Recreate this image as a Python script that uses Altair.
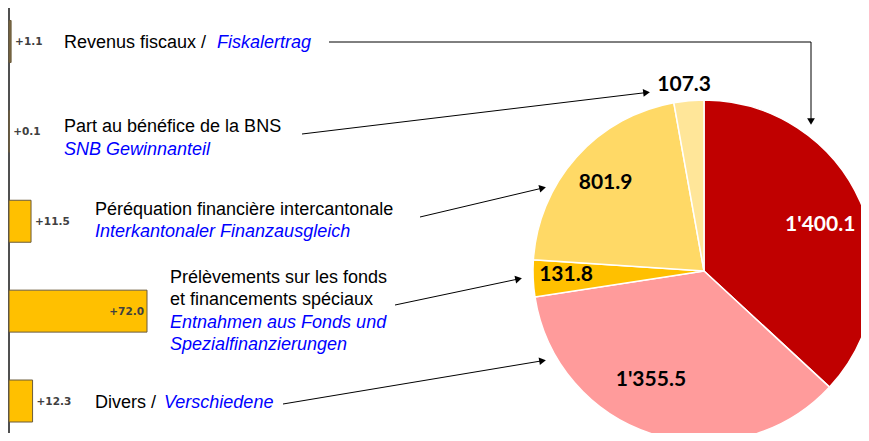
import math
import altair as alt
import pandas as pd

# ---------------- data ----------------
bar_items = ["Revenus fiscaux", "Part au bénéfice BNS", "Péréquation financière",
             "Prélèvements fonds", "Divers"]
bar_values = [1.1, 0.1, 11.5, 72.0, 12.3]
bar_labels = ["+1.1", "+0.1", "+11.5", "+72.0", "+12.3"]
bar_fills = ["#7D6B45", "#C8C8C8", "#FFC000", "#FFC000", "#FFC000"]

pie_items = ["Revenus fiscaux", "Divers", "Prélèvements fonds",
             "Péréquation financière", "Part au bénéfice BNS"]
pie_values = [1400.1, 1355.5, 131.8, 801.9, 107.3]
pie_colors = ["#C00000", "#FF9B9B", "#FFC000", "#FFD966", "#FFE699"]

# label placement (style): text colour, radius in px, angular nudge in degrees
pie_label_colors = ["white", "black", "black", "black", "black"]
pie_label_radius = [125, 121, 138, 132, 187]
pie_label_nudge = [2, 9, 1, 0, -1]

black_text = ["Revenus fiscaux / ", "Part au bénéfice de la BNS",
              "Péréquation financière intercantonale",
              "Prélèvements sur les fonds", "et financements spéciaux", "Divers / "]
black_x = [64, 64, 95, 170, 170, 95]
black_y = [48, 132, 215, 283, 305, 408]

blue_text = ["Fiskalertrag", "SNB Gewinnanteil", "Interkantonaler Finanzausgleich",
             "Entnahmen aus Fonds und", "Spezialfinanzierungen", "Verschiedene"]
blue_x = [217, 64, 95, 170, 170, 164]
blue_y = [48, 155, 237, 328, 350, 408]

# arrows: start -> tip (annotation layout)
arrow_x1 = [811, 302, 420, 395, 283]
arrow_y1 = [42, 134, 217, 305, 404]
arrow_x2 = [811, 651, 547, 523, 547]
arrow_y2 = [126, 92, 187, 278, 360]

# ---------------- tables ----------------
bars_df = pd.DataFrame({"item": bar_items, "value": bar_values,
                        "label": bar_labels, "fill": bar_fills})
bars_df["inside"] = bars_df["value"] > 50

fmt = lambda v: f"{v:,.1f}".replace(",", "'")
pie_df = pd.DataFrame({"item": pie_items, "value": pie_values,
                       "order": list(range(len(pie_items))),
                       "label": [fmt(v) for v in pie_values],
                       "tcolor": pie_label_colors, "r": pie_label_radius,
                       "nudge": pie_label_nudge})

black_df = pd.DataFrame({"x": black_x, "y": black_y, "text": black_text})
blue_df = pd.DataFrame({"x": blue_x, "y": blue_y, "text": blue_text})

head_len = 4.5
rows, heads = [], []
for x1, y1, x2, y2 in zip(arrow_x1, arrow_y1, arrow_x2, arrow_y2):
    ang = math.atan2(y2 - y1, x2 - x1)
    cx = x2 - head_len * math.cos(ang)
    cy = y2 - head_len * math.sin(ang)
    rows.append({"x": x1, "y": y1, "x2": cx, "y2": cy})
    heads.append({"x": cx, "y": cy, "ang": math.degrees(ang) % 360})
# horizontal leg of the first arrow
rows.append({"x": 329, "y": 42, "x2": 811, "y2": 42})
rules_df = pd.DataFrame(rows)
heads_df = pd.DataFrame(heads)

# ---------------- marks ----------------
BAR_X = alt.Scale(domain=[0, 72], range=[9, 147])
BAR_Y = alt.Scale(domain=bar_items, range=[-3.5, 446], paddingInner=0.533, paddingOuter=0.267)

axis_line = alt.Chart(bars_df).mark_rule(color="#505050", strokeWidth=1.5).encode(
    x=alt.value(9), y=alt.value(0), y2=alt.value(441))

bars = alt.Chart(bars_df).mark_bar(stroke="#6B5B3A", strokeWidth=1).encode(
    x=alt.X("value:Q", scale=BAR_X, axis=None),
    y=alt.Y("item:N", scale=BAR_Y, axis=None, sort=bar_items),
    fill=alt.Fill("fill:N", scale=None),
)
lab_style = dict(baseline="middle", dy=1, font="DejaVu Sans", fontSize=10.5,
                 fontWeight="bold", color="#404040")
lab_out = alt.Chart(bars_df).transform_filter("!datum.inside").mark_text(
    align="left", dx=4, **lab_style).encode(
    x=alt.X("value:Q", scale=BAR_X, axis=None),
    y=alt.Y("item:N", scale=BAR_Y, axis=None, sort=bar_items),
    text="label:N")
lab_in = alt.Chart(bars_df).transform_filter("datum.inside").mark_text(
    align="right", dx=-3, **lab_style).encode(
    x=alt.X("value:Q", scale=BAR_X, axis=None),
    y=alt.Y("item:N", scale=BAR_Y, axis=None, sort=bar_items),
    text="label:N")

total = sum(pie_values)
arc = alt.Chart(pie_df).mark_arc(outerRadius=171, stroke="white", strokeWidth=1.5).encode(
    theta=alt.Theta("value:Q", stack=True),
    order=alt.Order("order:Q"),
    color=alt.Color("item:N", scale=alt.Scale(domain=pie_items, range=pie_colors), legend=None),
    x=alt.value(704), y=alt.value(271),
)
pie_text = alt.Chart(pie_df).transform_window(
    cum="sum(value)", sort=[alt.SortField("order")], frame=[None, 0]
).transform_calculate(
    mid=f"datum.cum - datum.value / 2 + datum.nudge * {total} / 360"
).mark_text(font="Lato", fontWeight="bold", fontSize=21,
            baseline="middle", align="center").encode(
    theta=alt.Theta("mid:Q", stack=None),
    radius=alt.Radius("r:Q", scale=None),
    text="label:N",
    color=alt.Color("tcolor:N", scale=None),
    x=alt.value(704), y=alt.value(271),
)

rules = alt.Chart(rules_df).mark_rule(color="black", strokeWidth=1).encode(
    x=alt.X("x:Q", scale=None, axis=None), y=alt.Y("y:Q", scale=None, axis=None),
    x2="x2:Q", y2="y2:Q")
heads_mark = alt.Chart(heads_df).mark_point(shape="triangle-right", filled=True, size=60,
                                            color="black", opacity=1).encode(
    x=alt.X("x:Q", scale=None, axis=None), y=alt.Y("y:Q", scale=None, axis=None),
    angle=alt.Angle("ang:Q", scale=None))

black_mark = alt.Chart(black_df).mark_text(align="left", baseline="alphabetic",
                                           font="Liberation Sans", fontSize=18, color="black").encode(
    x=alt.X("x:Q", scale=None, axis=None), y=alt.Y("y:Q", scale=None, axis=None), text="text:N")
blue_mark = alt.Chart(blue_df).mark_text(align="left", baseline="alphabetic",
                                         font="Liberation Sans", fontSize=18, fontStyle="italic",
                                         color="#0000FF").encode(
    x=alt.X("x:Q", scale=None, axis=None), y=alt.Y("y:Q", scale=None, axis=None), text="text:N")

chart = alt.layer(axis_line, bars, lab_out, lab_in, arc, pie_text, rules, heads_mark,
                  black_mark, blue_mark).resolve_scale(
    x="independent", y="independent").properties(
    width=869, height=441,
    padding={"left": -8, "top": -8, "right": -8, "bottom": -8},
    autosize=alt.AutoSizeParams(type="none"),
).configure_view(stroke=None)

chart.save("out.html", embed_options={"renderer": "svg", "actions": False})
